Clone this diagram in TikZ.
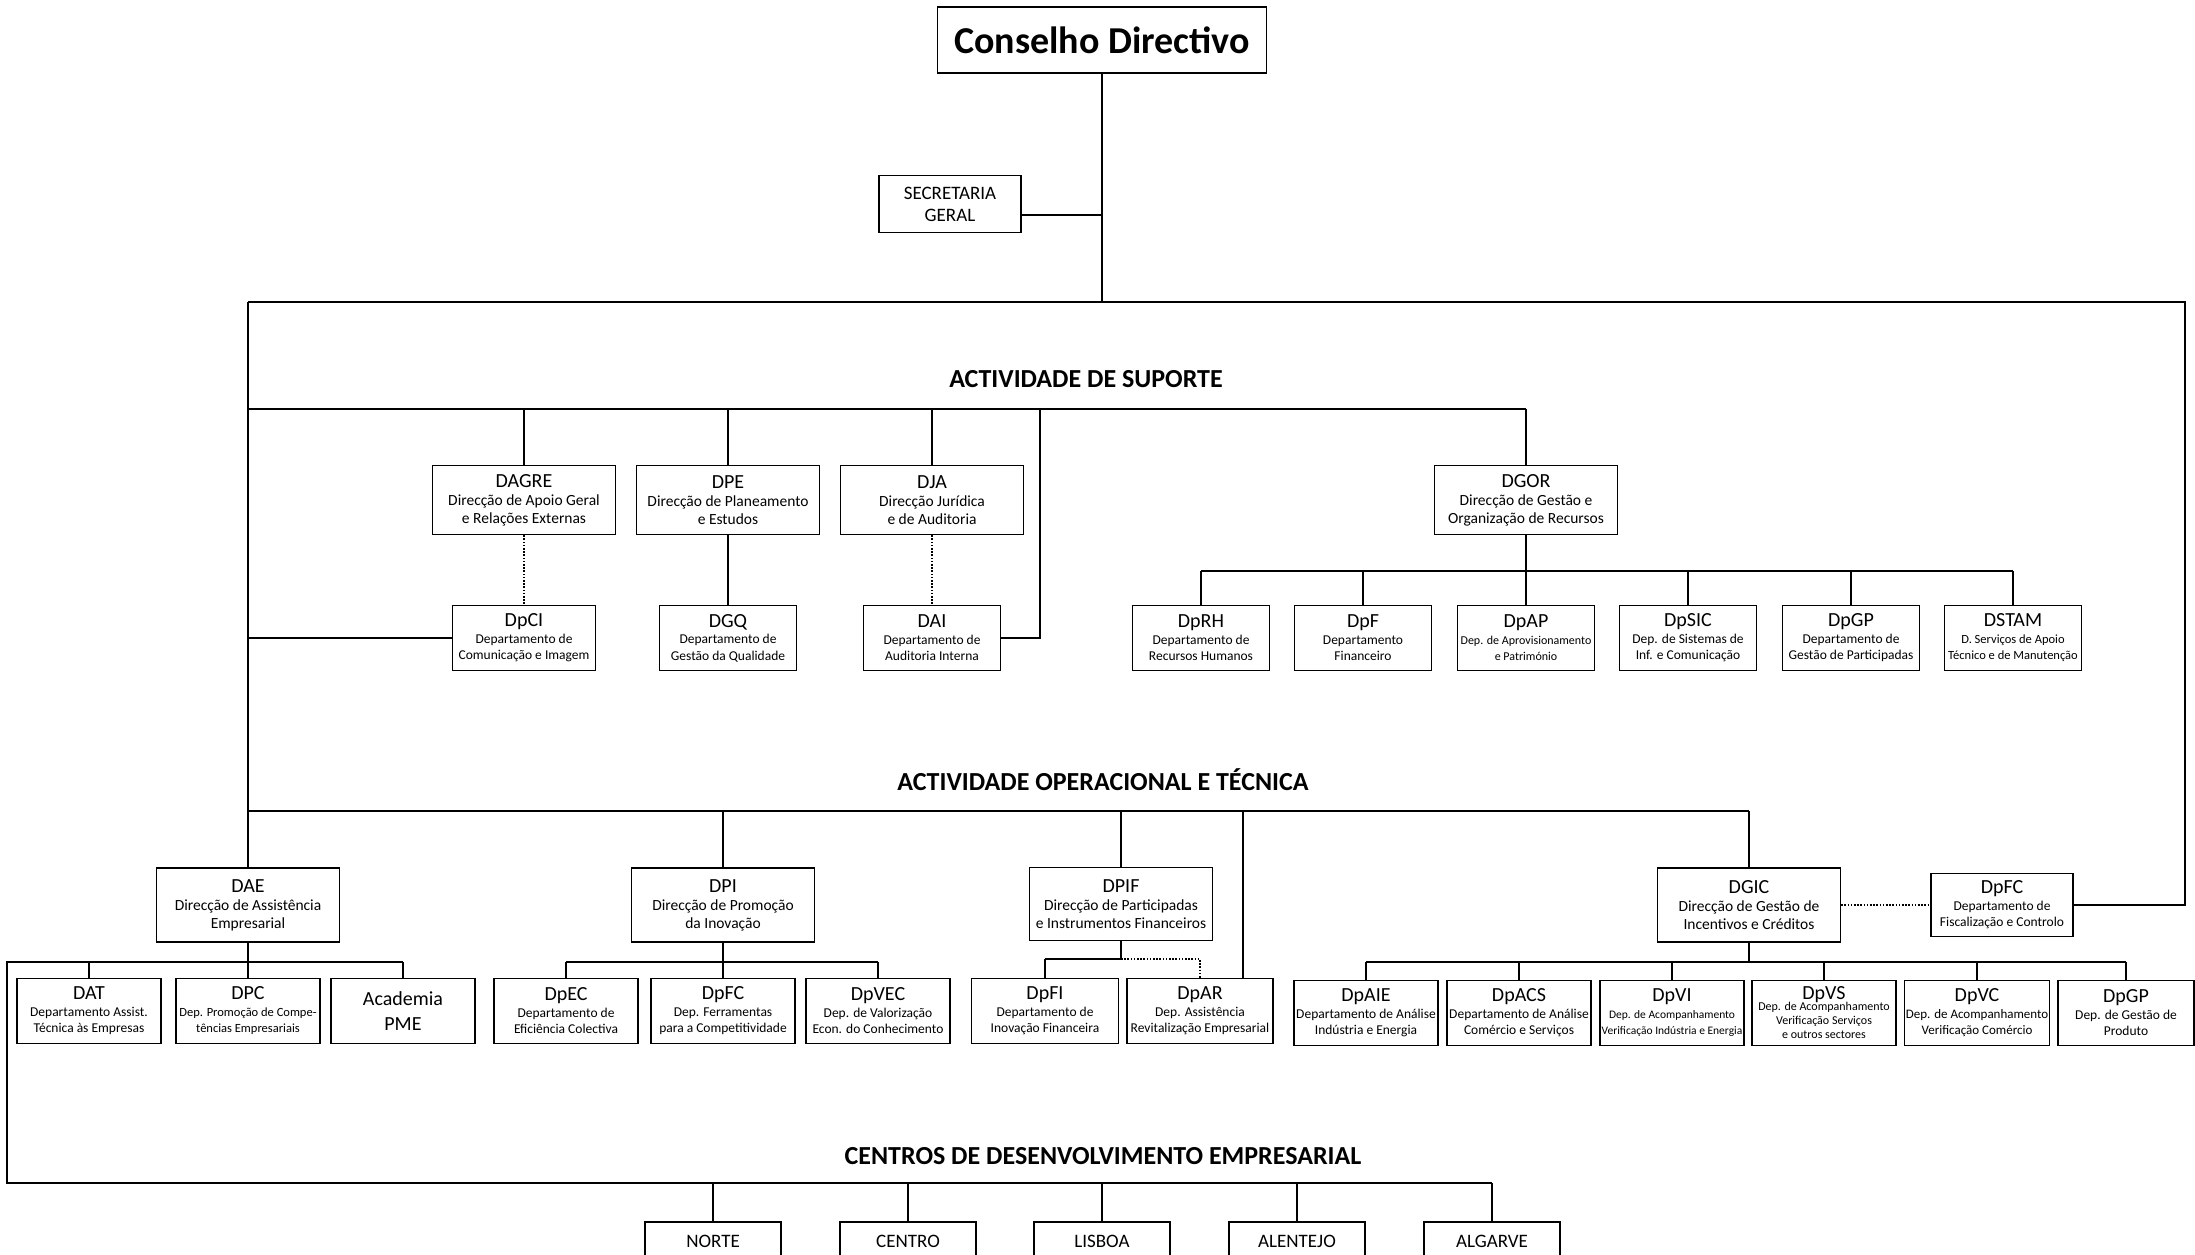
\documentclass[tikz,border=0pt]{standalone}
\usepackage{fontspec}
\setmainfont{Carlito}
\usetikzlibrary{positioning,calc}
\newcommand\ttl[1]{{\fontsize{20}{22}\selectfont #1}}
\tikzset{
  % caixas
  box/.style={draw=black,line width=1.3pt,fill=white,align=center,inner sep=1pt},
  dir/.style={box,minimum width=183pt,minimum height=69pt,font=\fontsize{15.5}{18}\selectfont},
  dep/.style={box,minimum width=137pt,minimum height=65pt,font=\fontsize{13.5}{16.5}\selectfont},
  depb/.style={box,minimum width=144pt,minimum height=65pt,font=\fontsize{13.5}{16.5}\selectfont},
  cdr/.style={box,minimum width=136pt,minimum height=38pt,font=\fontsize{19}{21}\selectfont},
  sec/.style={font=\bfseries\fontsize{26}{28}\selectfont},
  % ligacoes
  ln/.style={draw=black,line width=2.4pt},
  lns/.style={draw=black,line width=1.7pt},
  dotln/.style={draw=black,line width=1.3pt,dash pattern=on 1.6pt off 1.6pt},
}
\begin{document}
\begin{tikzpicture}[x=1pt,y=-1pt]
  \clip (0,0) rectangle (2195,1255);
  \fill[white] (0,0) rectangle (2195,1255);
  % topo
  \node[box,minimum width=329pt,minimum height=66pt,font=\bfseries\fontsize{38}{40}\selectfont] (cd) at (1102,40) {Conselho Directivo};
  \node[box,minimum width=142pt,minimum height=57pt,font=\fontsize{19}{22}\selectfont] (sg) at (950,204) {SECRETARIA\\GERAL};
  \node[sec] (tsup) at (1086,379) {ACTIVIDADE DE SUPORTE};
  \node[sec] (tope) at (1103,780) {ACTIVIDADE OPERACIONAL E TÉCNICA};
  \node[sec] (tcde) at (1103,1156) {CENTROS DE DESENVOLVIMENTO EMPRESARIAL};
  % suporte
  \node[dir] (dagre) at (524,500) {\ttl{DAGRE}\\Direcção de Apoio Geral\\e Relações Externas};
  \node[dir] (dpe) at (728,500) {\ttl{DPE}\\Direcção de Planeamento\\e Estudos};
  \node[dir] (dja) at (932,500) {\ttl{DJA}\\Direcção Jurídica\\e de Auditoria};
  \node[dir] (dgor) at (1526,500) {\ttl{DGOR}\\Direcção de Gestão e\\Organização de Recursos};
  \node[dep,minimum width=143pt] (dpci) at (524,638) {\ttl{DpCI}\\Departamento de\\Comunicação e Imagem};
  \node[dep] (dgq) at (728,638) {\ttl{DGQ}\\Departamento de\\Gestão da Qualidade};
  \node[dep] (dai) at (932,638) {\ttl{DAI}\\Departamento de\\Auditoria Interna};
  \node[dep] (dprh) at (1201,638) {\ttl{DpRH}\\Departamento de\\Recursos Humanos};
  \node[dep] (dpf) at (1363,638) {\ttl{DpF}\\Departamento\\Financeiro};
  \node[dep] (dpap) at (1526,638) {\ttl{DpAP}\\{\fontsize{12}{14}\selectfont Dep. de Aprovisionamento}\\{\fontsize{12}{14}\selectfont e Património}};
  \node[dep] (dpsic) at (1688,638) {\ttl{DpSIC}\\Dep. de Sistemas de\\Inf. e Comunicação};
  \node[dep] (dpgp) at (1851,638) {\ttl{DpGP}\\Departamento de\\Gestão de Participadas};
  \node[dep,font=\fontsize{12.5}{16.5}\selectfont] (dstam) at (2013,638) {\ttl{DSTAM}\\D. Serviços de Apoio\\Técnico e de Manutenção};
  % operacional
  \node[dir,minimum height=74pt] (dae) at (248,905) {\ttl{DAE}\\Direcção de Assistência\\Empresarial};
  \node[dir,minimum height=74pt] (dpi) at (723,905) {\ttl{DPI}\\Direcção de Promoção\\da Inovação};
  \node[dir,minimum height=73pt] (dpif) at (1121,904) {\ttl{DPIF}\\Direcção de Participadas\\e Instrumentos Financeiros};
  \node[dir,minimum height=74pt] (dgic) at (1749,905) {\ttl{DGIC}\\Direcção de Gestão de\\Incentivos e Créditos};
  \node[dep,minimum width=142pt,minimum height=63pt] (dpfc) at (2002,905) {\ttl{DpFC}\\Departamento de\\Fiscalização e Controlo};
  \node[depb] (dat) at (89,1011) {\ttl{DAT}\\Departamento Assist.\\Técnica às Empresas};
  \node[depb] (dpc) at (248,1011) {\ttl{DPC}\\{\fontsize{12.5}{14}\selectfont Dep. Promoção de Compe-}\\{\fontsize{12.5}{14}\selectfont tências Empresariais}};
  \node[depb,font=\fontsize{20}{25}\selectfont] (acad) at (403,1011) {Academia\\PME};
  \node[depb] (dpec) at (566,1011) {\ttl{DpEC}\\Departamento de\\Eficiência Colectiva};
  \node[depb] (dpfc2) at (723,1011) {\ttl{DpFC}\\Dep. Ferramentas\\para a Competitividade};
  \node[depb] (dpvec) at (878,1011) {\ttl{DpVEC}\\Dep. de Valorização\\Econ. do Conhecimento};
  \node[depb,minimum width=147pt] (dpfi) at (1045,1011) {\ttl{DpFI}\\Departamento de\\Inovação Financeira};
  \node[depb,minimum width=146pt] (dpar) at (1200,1011) {\ttl{DpAR}\\Dep. Assistência\\Revitalização Empresarial};
  \node[depb] (dpaie) at (1366,1013) {\ttl{DpAIE}\\Departamento de Análise\\Indústria e Energia};
  \node[depb] (dpacs) at (1519,1013) {\ttl{DpACS}\\Departamento de Análise\\Comércio e Serviços};
  \node[depb] (dpvi) at (1672,1013) {\ttl{DpVI}\\{\fontsize{11.5}{14}\selectfont Dep. de Acompanhamento}\\{\fontsize{11.5}{14}\selectfont Verificação Indústria e Energia}};
  \node[depb,font=\fontsize{12}{14}\selectfont] (dpvs) at (1824,1013) {\ttl{DpVS}\\[-3pt]Dep. de Acompanhamento\\Verificação Serviços\\e outros sectores};
  \node[depb,font=\fontsize{13}{16.5}\selectfont] (dpvc) at (1977,1013) {\ttl{DpVC}\\Dep. de Acompanhamento\\Verificação Comércio};
  \node[depb,minimum width=136pt] (dpgp2) at (2126,1013) {\ttl{DpGP}\\Dep. de Gestão de\\Produto};
  % centros
  \foreach \n/\x/\t in {norte/713/NORTE,centro/908/CENTRO,lisboa/1102/LISBOA,alentejo/1297/ALENTEJO,algarve/1492/ALGARVE}
    \node[cdr] (\n) at (\x,1241) {\t};
  % juncoes
  \coordinate (jcd) at (1102,302);
  \coordinate (jl) at (248,302);
  \coordinate (jr) at (2185,302);
  \coordinate (jsup) at (248,409);
  \coordinate (jdai) at (1040,409);
  \coordinate (jgor) at (1526,571);
  \coordinate (jop) at (248,811);
  \coordinate (jar) at (1243,811);
  \coordinate (jdae) at (248,962);
  \coordinate (jcl) at (7,962);
  \coordinate (jcb) at (7,1183);
  \coordinate (jdpi) at (723,962);
  \coordinate (jpif) at (1121,959);
  \coordinate (jgic) at (1749,962);
  % ligacoes
  \draw[ln] (cd.south) -- (jcd);
  \draw[ln] ([yshift=-11pt]sg.east) -- ([yshift=-11pt]sg.east -| jcd);
  \draw[ln] (jl) -- (jr) -- (jr |- dpfc.east) -- (dpfc.east);
  \draw[ln] (jl) -- (dae.north);
  \draw[ln] (jsup) -- (jsup -| dgor.north);
  \foreach \n in {dagre,dpe,dja,dgor} \draw[lns] (\n.north |- jsup) -- (\n.north);
  \draw[lns] (jdai) -- (jdai |- dai.east) -- (dai.east);
  \draw[lns] (dpci.west -| jl) -- (dpci.west);
  \draw[dotln] (dagre.south) -- (dpci.north);
  \draw[lns] (dpe.south) -- (dgq.north);
  \draw[dotln] (dja.south) -- (dai.north);
  \draw[lns] (dgor.south) -- (jgor);
  \draw[ln] (dprh.north |- jgor) -- (dstam.north |- jgor);
  \foreach \n in {dprh,dpf,dpap,dpsic,dpgp,dstam} \draw[lns] (\n.north |- jgor) -- (\n.north);
  \draw[ln] (jop) -- (jop -| dgic.north);
  \foreach \n in {dpi,dpif,dgic} \draw[lns] (\n.north |- jop) -- (\n.north);
  \draw[lns] (jar) -- (jar |- dpar.north);
  \draw[lns] (dae.south) -- (jdae);
  \draw[ln] (acad.north |- jdae) -- (jcl) -- (jcb) -- (jcb -| algarve.north);
  \foreach \n in {dat,dpc,acad} \draw[lns] (\n.north |- jdae) -- (\n.north);
  \foreach \n in {norte,centro,lisboa,alentejo,algarve} \draw[lns] (\n.north |- jcb) -- (\n.north);
  \draw[lns] (dpi.south) -- (jdpi);
  \draw[ln] (dpec.north |- jdpi) -- (dpvec.north |- jdpi);
  \foreach \n in {dpec,dpfc2,dpvec} \draw[lns] (\n.north |- jdpi) -- (\n.north);
  \draw[lns] (dpif.south) -- (jpif);
  \draw[ln] (jpif) -- (jpif -| dpfi.north);
  \draw[lns] (jpif -| dpfi.north) -- (dpfi.north);
  \draw[dotln] (jpif) -- (jpif -| dpar.north) -- (dpar.north);
  \draw[lns] (dgic.south) -- (jgic);
  \draw[ln] (dpaie.north |- jgic) -- (dpgp2.north |- jgic);
  \foreach \n in {dpaie,dpacs,dpvi,dpvs,dpvc,dpgp2} \draw[lns] (\n.north |- jgic) -- (\n.north);
  \draw[dotln] (dgic.east) -- (dpfc.west);
\end{tikzpicture}
\end{document}
